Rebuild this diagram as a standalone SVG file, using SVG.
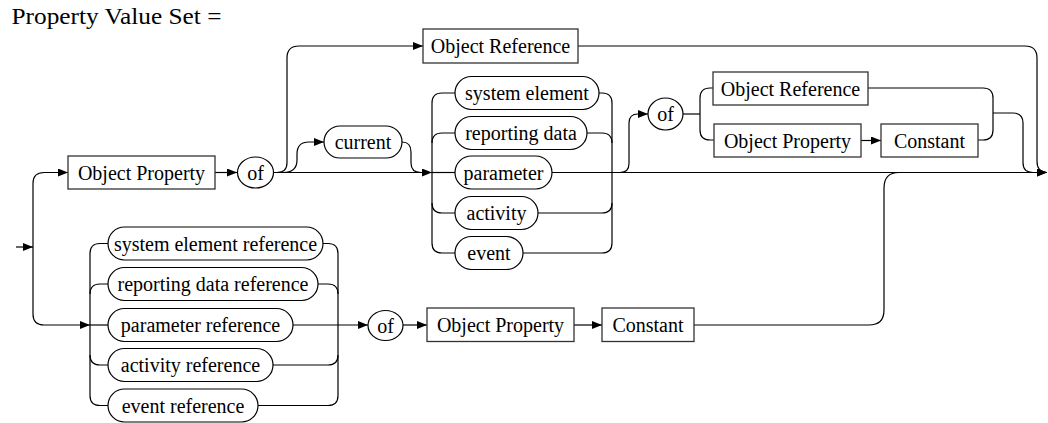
<svg xmlns="http://www.w3.org/2000/svg" width="1048" height="423" viewBox="0 0 1048 423">
<style>
.t{font-family:'Liberation Serif','Times New Roman',serif;font-size:20px;fill:#000;text-anchor:middle}
.box{fill:#fff;stroke:#333;stroke-width:1.3}
.pill{fill:#fff;stroke:#000;stroke-width:1.2}
.ln{fill:none;stroke:#000;stroke-width:1.2}
.ar{fill:none;stroke:#000;stroke-width:1.2;marker-end:url(#arr)}
</style>
<defs>
<marker id="arr" viewBox="0 0 10 8" refX="10" refY="4" markerWidth="10" markerHeight="8" markerUnits="userSpaceOnUse" orient="auto"><path d="M0,0 L10,4 L0,8 z" fill="#000"/></marker>
</defs>
<rect width="1048" height="423" fill="#fff"/>
<text x="11.5" y="24" font-family="Liberation Serif, Times New Roman, serif" font-size="23" textLength="210" lengthAdjust="spacingAndGlyphs">Property Value Set =</text>
<g id="connectors">
<path class="ar" d="M16 247 H33"/>
<path class="ar" d="M33 247 V183.5 Q33 172.5 44 172.5 H68"/>
<path class="ar" d="M33 247 V314 Q33 325 44 325 H90"/>
<path class="ar" d="M215 172.5 H237"/>
<path class="ar" d="M273.5 172.5 H432"/>
<path class="ar" d="M277 172.5 Q287 172.5 287 162.5 V58 Q287 46 299 46 H423"/>
<path class="ar" d="M283 172.5 Q297 172.5 297 160 V154 Q297 142 309 142 H324"/>
<path class="ln" d="M402 142 Q411 142 411 152 V163 Q411 172.5 421 172.5"/>
<path class="ar" d="M578 46 H1025 Q1037 46 1037 58 V161 Q1037 172.5 1047 172.5"/>
<path class="ln" d="M432 172.5 V103 Q432 93 442 93 H455"/>
<path class="ln" d="M432 143 Q432 133 442 133 H455"/>
<path class="ln" d="M432 172.5 H455"/>
<path class="ln" d="M432 203 Q432 213 442 213 H455"/>
<path class="ln" d="M432 172.5 V243 Q432 253 442 253 H455"/>
<path class="ln" d="M599 93 H602 Q612 93 612 103 V243 Q612 253 602 253 H523"/>
<path class="ln" d="M587 133 H602 Q612 133 612 143"/>
<path class="ln" d="M538 213 H602 Q612 213 612 203"/>
<path class="ar" d="M552 172.5 H1047"/>
<path class="ar" d="M620 172.5 Q629 172.5 629 163.5 V123 Q629 114 638 114 H648"/>
<path class="ln" d="M683 114 H700"/>
<path class="ln" d="M700 114 V98 Q700 88 710 88 H713"/>
<path class="ln" d="M700 114 V130 Q700 140 710 140 H714"/>
<path class="ar" d="M861 140.5 H881"/>
<path class="ln" d="M868 88 H983 Q993 88 993 98 V130 Q993 140 983 140 H978"/>
<path class="ln" d="M993 113 H1013 Q1023 113 1023 123 V162.5 Q1023 172.5 1033 172.5"/>
<path class="ln" d="M90 325 V253.5 Q90 243.5 100 243.5 H108"/>
<path class="ln" d="M90 294 Q90 284 100 284 H108"/>
<path class="ln" d="M90 325 H108"/>
<path class="ln" d="M90 355 Q90 365 100 365 H108"/>
<path class="ln" d="M90 325 V395.5 Q90 405.5 100 405.5 H108"/>
<path class="ln" d="M323 243.5 H328 Q338 243.5 338 253.5 V395.5 Q338 405.5 328 405.5 H258"/>
<path class="ln" d="M318 284 H328 Q338 284 338 294"/>
<path class="ln" d="M273 365 H328 Q338 365 338 355"/>
<path class="ar" d="M293 325 H368"/>
<path class="ar" d="M403 325 H427"/>
<path class="ar" d="M574 325 H602"/>
<path class="ln" d="M694 325 H869 Q884 325 884 310 V188 Q884 172.5 899 172.5"/>
</g>
<g id="n-objprop1"><rect class="box" x="68" y="156" width="147" height="33"/><text class="t" x="141.5" y="179.5">Object Property</text></g>
<g id="n-of1"><ellipse class="pill" cx="255.5" cy="172.5" rx="18" ry="15.5"/><text class="t" x="255.5" y="179.5">of</text></g>
<g id="n-objref1"><rect class="box" x="423" y="29" width="155" height="34"/><text class="t" x="500.5" y="53">Object Reference</text></g>
<g id="n-current"><rect class="pill" x="324" y="126" width="78" height="32" rx="16"/><text class="t" x="363" y="149">current</text></g>
<g id="n-syselem"><rect class="pill" x="455" y="76.5" width="144" height="33" rx="16.5"/><text class="t" x="527" y="100">system element</text></g>
<g id="n-repdata"><rect class="pill" x="455" y="116.5" width="132" height="33" rx="16.5"/><text class="t" x="521" y="140">reporting data</text></g>
<g id="n-param"><rect class="pill" x="455" y="156" width="97" height="33" rx="16.5"/><text class="t" x="503.5" y="179.5">parameter</text></g>
<g id="n-activity"><rect class="pill" x="455" y="196.5" width="83" height="33" rx="16.5"/><text class="t" x="496.5" y="220">activity</text></g>
<g id="n-event"><rect class="pill" x="455" y="236.5" width="68" height="33" rx="16.5"/><text class="t" x="489" y="260">event</text></g>
<g id="n-of2"><ellipse class="pill" cx="665.5" cy="114" rx="17.5" ry="16"/><text class="t" x="665.5" y="121">of</text></g>
<g id="n-objref2"><rect class="box" x="713" y="72" width="155" height="33"/><text class="t" x="790.5" y="95.5">Object Reference</text></g>
<g id="n-objprop2"><rect class="box" x="714" y="124" width="147" height="33"/><text class="t" x="787.5" y="147.5">Object Property</text></g>
<g id="n-const2"><rect class="box" x="881" y="124" width="97" height="33"/><text class="t" x="929.5" y="147.5">Constant</text></g>
<g id="n-sysref"><rect class="pill" x="108" y="227" width="215" height="33" rx="16.5"/><text class="t" x="215.5" y="250.5">system element reference</text></g>
<g id="n-repref"><rect class="pill" x="108" y="267.5" width="210" height="33" rx="16.5"/><text class="t" x="213" y="291">reporting data reference</text></g>
<g id="n-paramref"><rect class="pill" x="108" y="308.5" width="185" height="33" rx="16.5"/><text class="t" x="200.5" y="332">parameter reference</text></g>
<g id="n-actref"><rect class="pill" x="108" y="348.5" width="165" height="33" rx="16.5"/><text class="t" x="190.5" y="372">activity reference</text></g>
<g id="n-eventref"><rect class="pill" x="108" y="389" width="150" height="33" rx="16.5"/><text class="t" x="183" y="412.5">event reference</text></g>
<g id="n-of3"><ellipse class="pill" cx="385.5" cy="325.5" rx="17.5" ry="15"/><text class="t" x="385.5" y="332.5">of</text></g>
<g id="n-objprop3"><rect class="box" x="427" y="308" width="147" height="33.5"/><text class="t" x="500.5" y="332">Object Property</text></g>
<g id="n-const3"><rect class="box" x="602" y="308" width="92" height="33.5"/><text class="t" x="648" y="332">Constant</text></g>
</svg>
